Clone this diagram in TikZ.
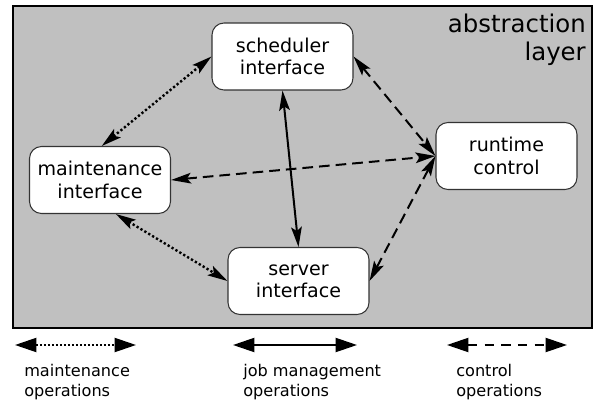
\documentclass[tikz,border=0pt]{standalone}
\usepackage{fontspec}
\setmainfont{DejaVu Sans}
\usetikzlibrary{arrows.meta}
\definecolor{layergray}{HTML}{C0C0C0}
\definecolor{boxborder}{HTML}{333333}
\tikzset{
  iface/.style={draw=boxborder, line width=0.8pt, fill=white, rounded corners=9pt,
    minimum width=105.75pt, minimum height=50.25pt, inner sep=0pt, align=center,
    font=\fontsize{14.3pt}{16.8pt}\selectfont},
  conn/.style={line width=1.5pt, {Stealth[length=15pt,width=8pt,inset=3pt]}-{Stealth[length=15pt,width=8pt,inset=3pt]}},
  maintop/.style={conn, line width=1.8pt, dash pattern=on 1.7pt off 1.7pt},
  jobop/.style={conn},
  ctrlop/.style={conn, dash pattern=on 8pt off 4.5pt},
  legarrow/.style={line width=1.5pt, {Triangle[length=16pt,width=10.5pt]}-{Triangle[length=16pt,width=10.5pt]}},
  legtext/.style={inner sep=0pt, align=left, anchor=west, font=\fontsize{12.1pt}{15pt}\selectfont}
}
\begin{document}
\begin{tikzpicture}[x=0.75pt, y=-0.75pt]
\useasboundingbox (0,0) rectangle (597,403);
\fill[white] (0,0) rectangle (597,403);
\draw[fill=layergray, line width=1.5pt] (13,6) rectangle (592,328);
\node[inner sep=0pt, anchor=north east, align=right, font=\fontsize{18.3pt}{21pt}\selectfont] (title) at (586,14) {abstraction\\layer};

\node[iface] (sched) at (282.5,56.5) {scheduler\\interface};
\node[iface] (maint) at (100,180) {maintenance\\interface};
\node[iface] (runtime) at (506.5,156) {runtime\\control};
\node[iface] (server) at (298.5,281) {server\\interface};

\draw[maintop] (maint.87) -- (sched.west);
\draw[maintop] (maint.-65.6) -- (server.west);
\draw[jobop] (sched.south) -- (server.north);
\draw[ctrlop] (sched.east) -- (runtime.west);
\draw[ctrlop] (maint.east) -- (runtime.west);
\draw[ctrlop] (server.east) -- (runtime.west);

\coordinate (m1) at (15,345);
\coordinate (m2) at (136,345);
\coordinate (j1) at (233,345);
\coordinate (j2) at (357,345);
\coordinate (c1) at (447,345);
\coordinate (c2) at (567,345);
\draw[legarrow, dash pattern=on 1.5pt off 1.5pt] (m1) -- (m2);
\draw[legarrow] (j1) -- (j2);
\draw[legarrow, dash pattern=on 7pt off 5.5pt] (c1) -- (c2);

\node[legtext] (lm) at (24,382) {maintenance\\operations};
\node[legtext] (lj) at (243,382) {job management\\operations};
\node[legtext] (lc) at (456,382) {control\\operations};
\end{tikzpicture}
\end{document}
